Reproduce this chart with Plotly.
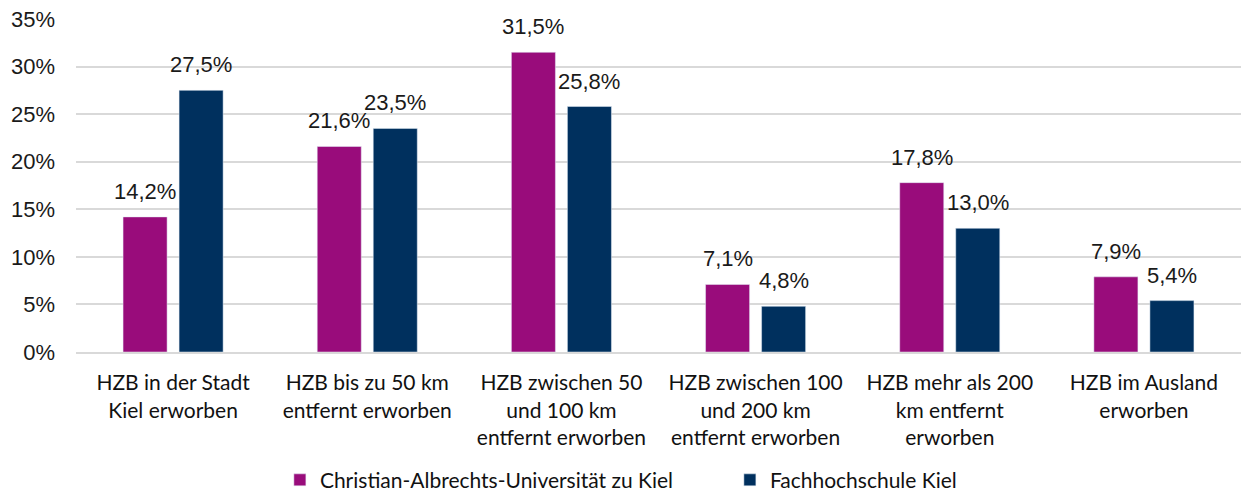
import plotly.graph_objects as go

categories = [
    "HZB in der Stadt<br>Kiel erworben",
    "HZB bis zu 50 km<br>entfernt erworben",
    "HZB zwischen 50<br>und 100 km<br>entfernt erworben",
    "HZB zwischen 100<br>und 200 km<br>entfernt erworben",
    "HZB mehr als 200<br>km entfernt<br>erworben",
    "HZB im Ausland<br>erworben",
]
cau = [14.2, 21.6, 31.5, 7.1, 17.8, 7.9]
fh = [27.5, 23.5, 25.8, 4.8, 13.0, 5.4]
series_names = ["Christian-Albrechts-Universität zu Kiel", "Fachhochschule Kiel"]
colors = ["#990C7B", "#00305E"]

label_font = dict(family="Liberation Sans, Arial, sans-serif", size=22, color="#1a1a1a")
cat_font = dict(family="Lato, Open Sans, sans-serif", size=21, color="#111111")
leg_font = dict(family="Lato, Open Sans, sans-serif", size=21, color="#111111")

fig = go.Figure()
for name, vals, col in zip(series_names, [cau, fh], colors):
    fig.add_trace(go.Bar(x=categories, y=vals, name=name, marker_color=col))

# data labels above bars
for vals, shift in zip([cau, fh], [-28, 28]):
    for c, v in zip(categories, vals):
        fig.add_annotation(
            x=c, y=v, xshift=shift, yshift=11, yanchor="bottom", showarrow=False,
            text=f"{v:.1f}%".replace(".", ","), font=label_font,
        )

fig.update_layout(
    width=1242, height=498,
    margin=dict(l=76, r=1, t=19, b=146, autoexpand=False),
    paper_bgcolor="white", plot_bgcolor="white",
    barmode="group", bargap=0.423, bargroupgap=0.214,
    separators=",.",
    showlegend=True,
    legend=dict(orientation="h", x=0.175, xanchor="left", y=-0.385, yanchor="middle",
                font=leg_font, traceorder="normal", entrywidth=405),
    yaxis=dict(range=[0, 35], dtick=5, ticksuffix="%", showgrid=True, gridcolor="#D9D9D9",
               gridwidth=2, zeroline=False, tickfont=label_font, ticks="", showline=False,
               automargin=False, ticklabelstandoff=20),
    xaxis=dict(tickfont=cat_font, showline=True, linecolor="#D9D9D9", linewidth=2, ticks="",
               automargin=False, ticklabelstandoff=11),
)
fig.write_html("out.html", config={"displayModeBar": False},
               post_script="document.body.style.margin='0';")
